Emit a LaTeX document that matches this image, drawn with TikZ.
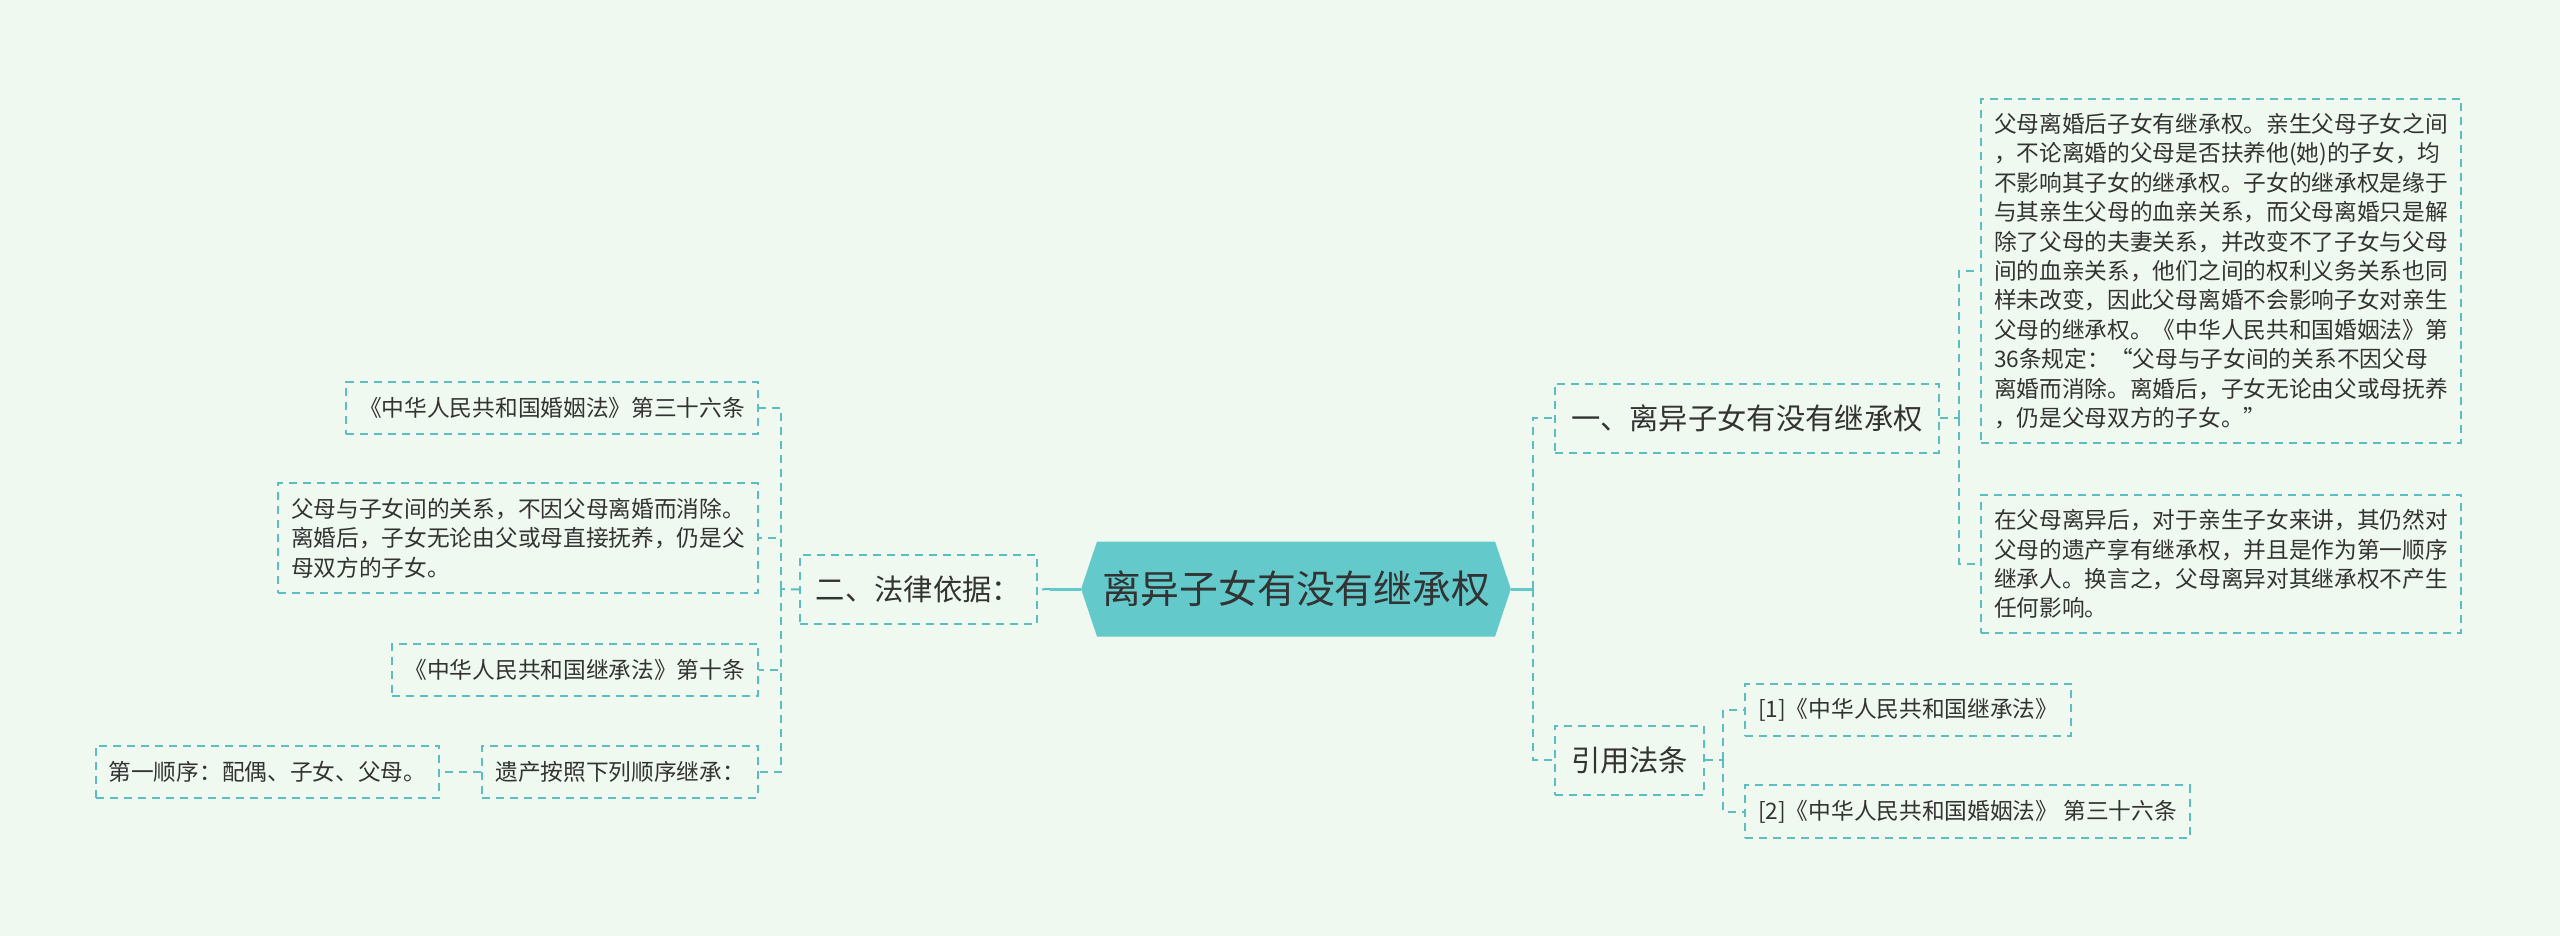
\documentclass[tikz,border=0pt]{standalone}
\usepackage{fontspec}
\setmainfont{Noto Sans CJK SC}
\usetikzlibrary{positioning,shapes.symbols}

\definecolor{bgmint}{HTML}{F0F9EF}
\definecolor{hubteal}{HTML}{63C9CB}
\definecolor{dashteal}{HTML}{5BBEC3}
\definecolor{inkgray}{HTML}{333333}

\begin{document}
\begin{tikzpicture}[
  x=0.5pt, y=-0.5pt,
  hub/.style={shape=signal, signal to=east and west, signal pointer angle=143, fill=hubteal, draw=none,
    minimum height=47.5pt, inner ysep=0pt, inner xsep=2.5pt, font=\fontsize{19.4}{24}\selectfont, text=inkgray},
  topic/.style={draw=dashteal, line width=1pt, dash pattern=on 4pt off 3pt, inner xsep=8pt,
    minimum height=34.5pt, font=\fontsize{14.65}{18}\selectfont, text=inkgray},
  leaf/.style={draw=dashteal, line width=1pt, dash pattern=on 4pt off 3pt, inner xsep=6.5pt, inner ysep=7.3pt,
    minimum height=26pt, align=left, font=\fontsize{11.35}{14.7}\selectfont, text=inkgray},
  stem/.style={draw=hubteal, line width=1.5pt},
  link/.style={draw=dashteal, line width=1pt, dash pattern=on 4pt off 3pt},
  node distance=20.5pt
]
\path[use as bounding box, fill=bgmint] (0,0) rectangle (2560,936);

\node[hub] (hub) at (1296,589) {离异子女有没有继承权};
\node[topic, anchor=east] (law) at (1038,589.5) {二、法律依据：};
\node[topic, anchor=west] (one) at (1554,418) {一、离异子女有没有继承权};
\node[topic, anchor=west] (cite) at (1554,760) {引用法条};

\node[leaf, anchor=west] (rA) at (1980,271) {父母离婚后子女有继承权。亲生父母子女之间\\
  ，不论离婚的父母是否扶养他(她)的子女，均\\
  不影响其子女的继承权。子女的继承权是缘于\\
  与其亲生父母的血亲关系，而父母离婚只是解\\
  除了父母的夫妻关系，并改变不了子女与父母\\
  间的血亲关系，他们之间的权利义务关系也同\\
  样未改变，因此父母离婚不会影响子女对亲生\\
  父母的继承权。《中华人民共和国婚姻法》第\\
  36条规定：“父母与子女间的关系不因父母\\
  离婚而消除。离婚后，子女无论由父或母抚养\\
  ，仍是父母双方的子女。”};
\node[leaf, anchor=west] (rB) at (1980,564) {在父母离异后，对于亲生子女来讲，其仍然对\\
  父母的遗产享有继承权，并且是作为第一顺序\\
  继承人。换言之，父母离异对其继承权不产生\\
  任何影响。};
\node[leaf, anchor=west] (c1) at (1744,710) {[1]《中华人民共和国继承法》};
\node[leaf, anchor=west] (c2) at (1744,811.5) {[2]《中华人民共和国婚姻法》 第三十六条};

\node[leaf, anchor=east] (lA) at (759,408) {《中华人民共和国婚姻法》第三十六条};
\node[leaf, anchor=east] (lB) at (759,538) {父母与子女间的关系，不因父母离婚而消除。\\
  离婚后，子女无论由父或母直接抚养，仍是父\\
  母双方的子女。};
\node[leaf, anchor=east] (lC) at (759,669.5) {《中华人民共和国继承法》第十条};
\node[leaf, anchor=east] (lD) at (759,771.5) {遗产按照下列顺序继承：};
\node[leaf, left=of lD] (lE) {第一顺序：配偶、子女、父母。};

% joints of the brackets
\coordinate (hubL) at (1050,589);
\coordinate (hubR) at (1533,589);
\coordinate (lawJ) at (781,589);
\coordinate (oneJ) at (1959,418);
\coordinate (citeJ) at (1723,760);

\draw[stem] (hub.west) -- (hubL);
\draw[link] (hubL) -- (law.east);
\draw[stem] (hub.east) -- (hubR);
\draw[link] (hubR) |- (one.west);
\draw[link] (hubR) |- (cite.west);

\draw[link] (law.west) -- (lawJ);
\draw[link] (lawJ) |- (lA.east);
\draw[link] (lawJ) |- (lB.east);
\draw[link] (lawJ) |- (lC.east);
\draw[link] (lawJ) |- (lD.east);
\draw[link] (lD.west) -- (lE.east);

\draw[link] (one.east) -- (oneJ);
\draw[link] (oneJ) |- (rA.west);
\draw[link] (oneJ) |- (rB.west);

\draw[link] (cite.east) -- (citeJ);
\draw[link] (citeJ) |- (c1.west);
\draw[link] (citeJ) |- (c2.west);

\end{tikzpicture}
\end{document}
